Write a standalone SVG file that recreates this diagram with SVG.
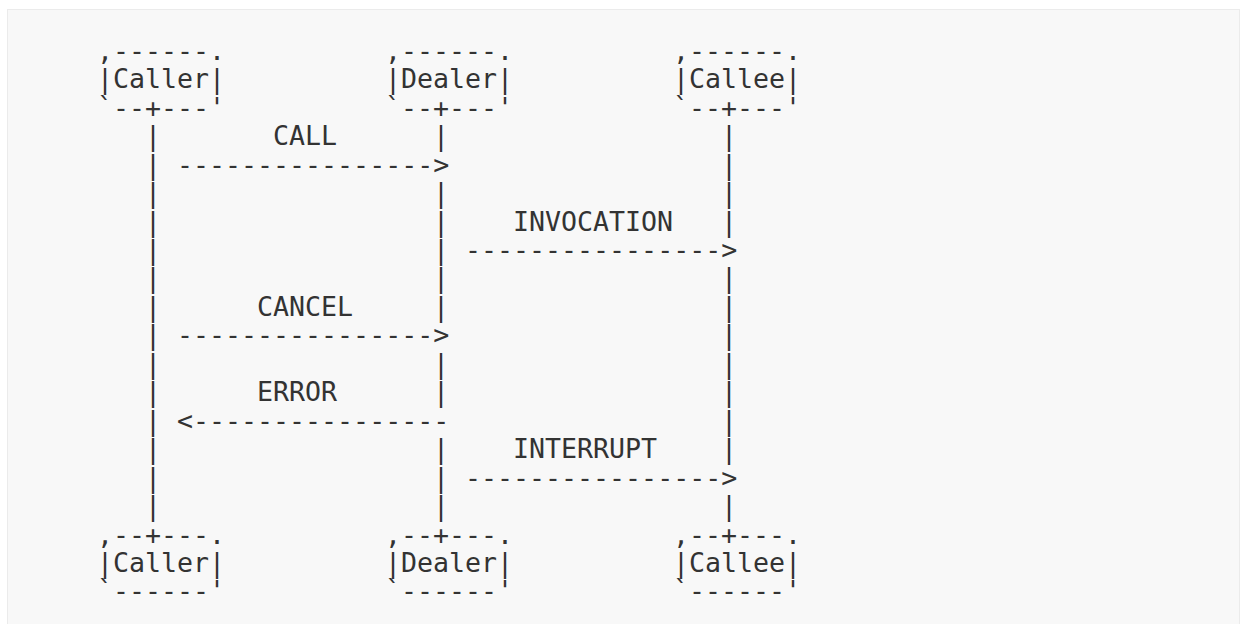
<svg xmlns="http://www.w3.org/2000/svg" width="1242" height="624" viewBox="0 0 1242 624">
  <style>
    text { font-family: "DejaVu Sans Mono", "Liberation Mono", monospace; font-size: 26.6px; fill: #333333; white-space: pre; }
  </style>
  <rect x="7.5" y="9.5" width="1232" height="640" fill="#f8f8f8" stroke="#ebebeb" stroke-width="1"/>

  <g id="caller-top">
    <text x="97" y="59.85">,------.</text>
    <text x="97" y="88.3">|Caller|</text>
    <text x="97" y="116.75">`--+---'</text>
  </g>
  <g id="dealer-top">
    <text x="385" y="59.85">,------.</text>
    <text x="385" y="88.3">|Dealer|</text>
    <text x="385" y="116.75">`--+---'</text>
  </g>
  <g id="callee-top">
    <text x="673" y="59.85">,------.</text>
    <text x="673" y="88.3">|Callee|</text>
    <text x="673" y="116.75">`--+---'</text>
  </g>

  <g id="caller-bottom">
    <text x="97" y="543.5">,--+---.</text>
    <text x="97" y="571.95">|Caller|</text>
    <text x="97" y="600.4">`------'</text>
  </g>
  <g id="dealer-bottom">
    <text x="385" y="543.5">,--+---.</text>
    <text x="385" y="571.95">|Dealer|</text>
    <text x="385" y="600.4">`------'</text>
  </g>
  <g id="callee-bottom">
    <text x="673" y="543.5">,--+---.</text>
    <text x="673" y="571.95">|Callee|</text>
    <text x="673" y="600.4">`------'</text>
  </g>

  <g id="connectors">
    <g id="lifeline-caller">
      <text><tspan x="145" y="145.2">|</tspan><tspan x="145" y="173.65">|</tspan><tspan x="145" y="202.1">|</tspan><tspan x="145" y="230.55">|</tspan><tspan x="145" y="259">|</tspan><tspan x="145" y="287.45">|</tspan><tspan x="145" y="315.9">|</tspan><tspan x="145" y="344.35">|</tspan><tspan x="145" y="372.8">|</tspan><tspan x="145" y="401.25">|</tspan><tspan x="145" y="429.7">|</tspan><tspan x="145" y="458.15">|</tspan><tspan x="145" y="486.6">|</tspan><tspan x="145" y="515.05">|</tspan></text>
    </g>
    <g id="lifeline-dealer">
      <text><tspan x="433" y="145.2">|</tspan><tspan x="433" y="202.1">|</tspan><tspan x="433" y="230.55">|</tspan><tspan x="433" y="259">|</tspan><tspan x="433" y="287.45">|</tspan><tspan x="433" y="315.9">|</tspan><tspan x="433" y="372.8">|</tspan><tspan x="433" y="401.25">|</tspan><tspan x="433" y="458.15">|</tspan><tspan x="433" y="486.6">|</tspan><tspan x="433" y="515.05">|</tspan></text>
    </g>
    <g id="lifeline-callee">
      <text><tspan x="721" y="145.2">|</tspan><tspan x="721" y="173.65">|</tspan><tspan x="721" y="202.1">|</tspan><tspan x="721" y="230.55">|</tspan><tspan x="721" y="287.45">|</tspan><tspan x="721" y="315.9">|</tspan><tspan x="721" y="344.35">|</tspan><tspan x="721" y="372.8">|</tspan><tspan x="721" y="401.25">|</tspan><tspan x="721" y="429.7">|</tspan><tspan x="721" y="458.15">|</tspan><tspan x="721" y="515.05">|</tspan></text>
    </g>

    <g id="msg-call">
      <text x="273" y="145.2">CALL</text>
      <text x="177" y="173.65">----------------&gt;</text>
    </g>
    <g id="msg-invocation">
      <text x="513" y="230.55">INVOCATION</text>
      <text x="465" y="259">----------------&gt;</text>
    </g>
    <g id="msg-cancel">
      <text x="257" y="315.9">CANCEL</text>
      <text x="177" y="344.35">----------------&gt;</text>
    </g>
    <g id="msg-error">
      <text x="257" y="401.25">ERROR</text>
      <text x="177" y="429.7">&lt;----------------</text>
    </g>
    <g id="msg-interrupt">
      <text x="513" y="458.15">INTERRUPT</text>
      <text x="465" y="486.6">----------------&gt;</text>
    </g>
  </g>
</svg>
